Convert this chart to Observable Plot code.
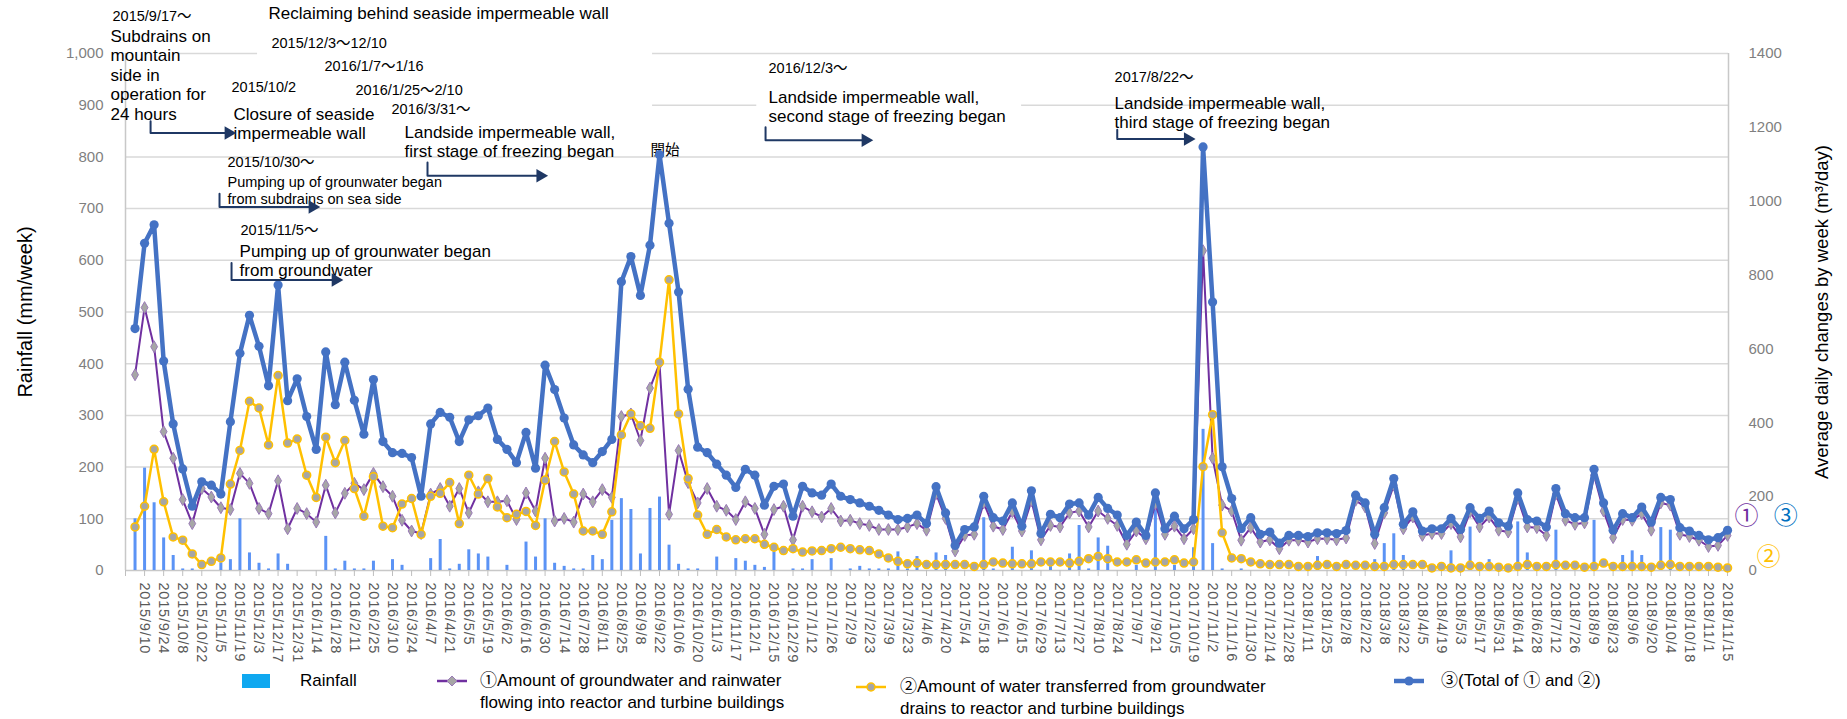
<!DOCTYPE html>
<html><head><meta charset="utf-8">
<script src="https://cdn.jsdelivr.net/npm/d3@7"></script>
<script src="https://cdn.jsdelivr.net/npm/@observablehq/plot@0.6"></script>
<style>
html,body{margin:0;padding:0;background:#fff;}
#wrap{position:relative;width:1847px;height:719px;overflow:hidden;font-family:"Liberation Sans","Noto Sans CJK JP",Arial,sans-serif;}
#legend{position:absolute;left:0;top:665px;width:1847px;height:54px;}
.lg{position:absolute;font-size:17px;color:#000;white-space:nowrap;line-height:20px;}
.sw{position:absolute;}
</style></head><body><div id="wrap"><div id="chart"></div><div id="legend"></div></div>
<script>
// Weekly data, first week 2015/9/3, last week 2018/11/15 (168 weeks)
const rainfall = [
100,198,131,63,29,3,3,0,0,15, 21,100,34,14,3,32,12,0,0,0,
66,3,18,3,3,18,0,21,10,0, 0,23,60,3,12,40,32,26,0,10,
0,55,26,100,14,8,3,3,29,21, 97,139,118,32,120,142,49,12,3,3,
0,26,0,23,18,10,6,36,0,3, 3,21,0,23,0,3,8,3,3,3,
36,3,27,0,34,29,0,0,0,102, 3,0,45,0,38,0,10,0,32,87,
3,63,47,0,0,10,0,117,0,10, 0,44,273,52,3,0,3,0,0,0,
0,0,0,0,27,0,0,0,0,0, 21,52,71,29,0,0,0,0,38,0,
84,0,21,0,0,94,34,0,0,78, 0,0,0,97,0,0,29,38,29,0,
83,78,0,0,0,0,0,0];
const inflow1 = [
530,712,606,376,304,192,127,222,199,170, 165,263,236,168,154,243,113,168,154,131,
231,156,209,236,219,263,227,201,136,107, 100,207,222,174,222,156,213,186,186,189,
138,210,161,304,134,141,131,207,186,219, 198,417,424,352,494,560,152,325,238,183,
222,174,163,138,186,168,98,165,174,83, 174,159,145,168,134,136,127,122,111,111,
111,118,127,109,208,141,53,95,98,183, 120,111,159,107,189,83,122,118,156,161,
118,161,141,122,71,107,86,181,98,120, 86,113,866,304,177,161,82,116,77,83,
59,82,82,77,86,86,83,88,190,172, 73,156,231,113,145,95,100,100,127,91,
159,118,145,109,104,195,118,116,95,207, 136,125,129,258,161,89,138,136,154,109,
183,177,98,92,82,65,68,95];
const transfer2 = [
118,174,328,186,91,82,45,16,25,34, 234,325,458,440,340,528,345,356,258,198,
361,292,352,222,147,254,120,116,180,195, 98,201,209,238,127,258,207,249,172,143,
152,160,122,245,349,267,207,107,107,98, 159,367,424,392,385,564,787,424,249,150,
98,111,91,83,86,86,71,63,54,59, 50,53,54,59,63,59,56,54,45,34,
25,18,20,16,16,16,16,16,11,16, 23,20,18,18,18,23,23,23,20,25,
32,38,32,23,23,29,20,23,23,29, 20,23,281,422,102,34,32,23,18,16,
16,16,11,11,14,16,11,16,14,14, 11,11,16,16,16,16,7,11,7,7,
14,11,11,9,7,11,16,11,11,16, 14,14,9,11,20,11,11,11,11,9,
14,16,11,11,11,11,9,7];
const total3 = [
655,886,936,567,397,275,174,240,231,207, 403,588,691,607,500,773,460,519,417,328,
592,449,564,461,369,517,349,319,317,306, 201,397,428,415,349,408,419,440,355,328,
292,374,277,556,490,413,340,313,292,322, 355,782,850,745,881,1126,940,754,491,334,
319,288,258,225,274,258,177,228,234,147, 228,210,204,234,201,192,183,174,163,150,
138,141,150,127,227,156,68,111,118,201, 143,134,183,120,216,100,152,143,180,183,
150,198,168,150,95,131,95,210,113,147, 113,138,1147,727,281,195,113,143,98,104,
74,95,95,92,102,102,100,108,204,183, 98,170,249,125,159,107,113,113,141,111,
170,141,161,129,120,210,138,134,118,222, 154,143,143,274,183,109,154,143,172,131,
198,192,116,107,95,83,89,109];
const tickLabels = [
"2015/9/10","2015/9/24","2015/10/8","2015/10/22","2015/11/5","2015/11/19","2015/12/3","2015/12/17","2015/12/31",
"2016/1/14","2016/1/28","2016/2/11","2016/2/25","2016/3/10","2016/3/24","2016/4/7","2016/4/21","2016/5/5","2016/5/19",
"2016/6/2","2016/6/16","2016/6/30","2016/7/14","2016/7/28","2016/8/11","2016/8/25","2016/9/8","2016/9/22","2016/10/6",
"2016/10/20","2016/11/3","2016/11/17","2016/12/1","2016/12/15","2016/12/29",
"2017/1/12","2017/1/26","2017/2/9","2017/2/23","2017/3/9","2017/3/23","2017/4/6","2017/4/20","2017/5/4","2017/5/18",
"2017/6/1","2017/6/15","2017/6/29","2017/7/13","2017/7/27","2017/8/10","2017/8/24","2017/9/7","2017/9/21","2017/10/5",
"2017/10/19","2017/11/2","2017/11/16","2017/11/30","2017/12/14","2017/12/28",
"2018/1/11","2018/1/25","2018/2/8","2018/2/22","2018/3/8","2018/3/22","2018/4/5","2018/4/19","2018/5/3","2018/5/17",
"2018/5/31","2018/6/14","2018/6/28","2018/7/12","2018/7/26","2018/8/9","2018/8/23","2018/9/6","2018/9/20","2018/10/4",
"2018/10/18","2018/11/1","2018/11/15"];
const leftTicks = [0,100,200,300,400,500,600,700,800,900,1000];
const rightTicks = [0,200,400,600,800,1000,1200,1400];

// annotations: x in week index, y in left-axis units
const annotBig = [
  {x:14.0, y:1076.6, t:"Reclaiming behind seaside impermeable wall"},
  {x:-2.57, y:1033.0, t:"Subdrains on"},
  {x:-2.57, y:996.1, t:"mountain"},
  {x:-2.57, y:958.3, t:"side in"},
  {x:-2.57, y:920.5, t:"operation for"},
  {x:-2.57, y:882.8, t:"24 hours"},
  {x:10.33, y:882.8, t:"Closure of seaside"},
  {x:10.33, y:844.4, t:"impermeable wall"},
  {x:28.26, y:847.5, t:"Landside impermeable wall,"},
  {x:28.26, y:809.5, t:"first stage of freezing began"},
  {x:10.96, y:616.9, t:"Pumping up of grounwater began"},
  {x:10.96, y:580.0, t:"from groundwater"},
  {x:66.43, y:914.1, t:"Landside impermeable wall,"},
  {x:66.43, y:878.5, t:"second stage of freezing began"},
  {x:102.72, y:903.1, t:"Landside impermeable wall,"},
  {x:102.72, y:866.9, t:"third stage of freezing began"}
];
const annotSmall = [
  {x:-2.36, y:1071.7, t:"2015/9/17～"},
  {x:14.31, y:1019.4, t:"2015/12/3～12/10"},
  {x:19.87, y:974.8, t:"2016/1/7～1/16"},
  {x:10.12, y:934.1, t:"2015/10/2"},
  {x:23.12, y:928.3, t:"2016/1/25～2/10"},
  {x:26.90, y:891.5, t:"2016/3/31～"},
  {x:9.70, y:790.1, t:"2015/10/30～"},
  {x:9.70, y:750.6, t:"Pumping up of grounwater began"},
  {x:9.70, y:717.1, t:"from subdrains on sea side"},
  {x:11.06, y:657.6, t:"2015/11/5～"},
  {x:66.43, y:970.3, t:"2016/12/3～"},
  {x:102.72, y:954.8, t:"2017/8/22～"}
];
const stray = [{x:54.06, y:812.6, t:"開始"}];
// white text-box backgrounds that hide gridlines
const boxes = [
  {x1:-0.9, x2:4.56, y1:887.6, y2:1046.5},
  {x1:4.56, x2:12.85, y1:887.6, y2:984.5},
  {x1:12.85, x2:54.27, y1:887.6, y2:1104.7},
  {x1:65.2, x2:92.97, y1:862.4, y2:988.4}
];
const arrows = [
  {id:1, xa:1.63, ya:868.8, xb:9.80, yb:846.3},
  {id:2, xa:30.67, ya:789.3, xb:42.5, yb:763.6},
  {id:3, xa:8.86, ya:728.7, xb:18.61, yb:702.9},
  {id:4, xa:10.12, ya:595.0, xb:21.03, yb:562.0},
  {id:5, xa:66.12, ya:857.2, xb:76.6, yb:832.0},
  {id:6, xa:103.0, ya:852.7, xb:110.4, yb:834.7}
];
const circled = [
  {x:169.0, y:104.7, t:"①", c:"#7030A0"},
  {x:173.1, y:104.7, t:"③", c:"#0070C0"},
  {x:171.3, y:25.0, t:"②", c:"#FFC000"}
];

const k = 1000/1400;
const rows = rainfall.map((r,i)=>({i, rain:r, s1:inflow1[i], s2:transfer2[i], s3:total3[i]}));
const tickIdx = [-1, ...tickLabels.map((t,j)=>2*j+1)];
const arrowPts = arrows.flatMap(a=>[{id:a.id,x:a.xa,y:a.ya},{id:a.id,x:a.xa,y:a.yb},{id:a.id,x:a.xb,y:a.yb}]);
const navy = "#1F3864";
const xMax = 167.1;

const chart = Plot.plot({
  width: 1847, height: 665,
  marginLeft: 125, marginRight: 119, marginTop: 53, marginBottom: 95,
  x: {type:"linear", domain:[-1, xMax]},
  y: {domain:[0,1000]},
  style: {fontFamily:'"Liberation Sans","Noto Sans CJK JP",Arial,sans-serif', background:"#fff", overflow:"visible"},
  marks: [
    Plot.ruleY(leftTicks.slice(1), {stroke:"#d9d9d9", strokeWidth:1.5}),
    Plot.rect(boxes, {x1:"x1", x2:"x2", y1:"y1", y2:"y2", fill:"#fff"}),
    Plot.ruleX([-1], {y1:0, y2:1000, stroke:"#c8c8c8", strokeWidth:1.5}),
    Plot.ruleX([xMax], {y1:0, y2:1000, stroke:"#c8c8c8", strokeWidth:1.5}),
    Plot.ruleY([0], {stroke:"#c8c8c8", strokeWidth:1.5}),
    Plot.axisY(leftTicks, {anchor:"left", tickSize:0, tickPadding:22, tickFormat:d3.format(","), fontSize:15, fill:"#7f7f7f", label:null}),
    Plot.axisY(rightTicks.map(v=>v*k), {anchor:"right", tickSize:0, tickPadding:20, tickFormat:v=>String(Math.round(v/k)), fontSize:15, fill:"#7f7f7f", label:null}),
    Plot.axisX(tickIdx, {anchor:"bottom", tickSize:6, tickPadding:6, tickRotate:90, fontSize:14.5, fill:"#595959", stroke:"#bfbfbf", tickFormat:i=> i<0 ? "" : tickLabels[(i-1)/2], label:null}),
    Plot.text(["Rainfall (mm/week)"], {frameAnchor:"left", dx:-100, rotate:-90, textAnchor:"middle", fontSize:20, fill:"#000"}),
    Plot.text(["Average daily changes by week (m³/day)"], {frameAnchor:"right", dx:94, rotate:-90, textAnchor:"middle", fontSize:18.5, fill:"#000"}),
    Plot.text(stray, {x:"x", y:"y", text:"t", textAnchor:"start", fontSize:14.5, fill:"#000"}),
    // rainfall bars
    Plot.ruleX(rows, {x:"i", y1:0, y2:"rain", stroke:"#5b93f5", strokeWidth:3}),
    // ① purple
    Plot.line(rows, {x:"i", y:d=>d.s1*k, stroke:"#7030A0", strokeWidth:2}),
    Plot.dot(rows, {x:"i", y:d=>d.s1*k, symbol:"diamond", r:3.6, fill:"#a6a6a6", stroke:"#9a7ab8", strokeWidth:1}),
    // ② yellow
    Plot.line(rows, {x:"i", y:d=>d.s2*k, stroke:"#FFC000", strokeWidth:2.5}),
    Plot.dot(rows, {x:"i", y:d=>d.s2*k, r:4, fill:"#a6a6a6", stroke:"#FFC000", strokeWidth:1.5}),
    // ③ blue
    Plot.line(rows, {x:"i", y:d=>d.s3*k, stroke:"#4472C4", strokeWidth:4.5}),
    Plot.dot(rows, {x:"i", y:d=>d.s3*k, r:4.6, fill:"#4472C4"}),
    // annotations
    Plot.text(annotBig, {x:"x", y:"y", text:"t", textAnchor:"start", fontSize:17, fill:"#000"}),
    Plot.text(annotSmall, {x:"x", y:"y", text:"t", textAnchor:"start", fontSize:14.5, fill:"#000"}),
    Plot.line(arrowPts, {x:"x", y:"y", z:"id", stroke:navy, strokeWidth:2}),
    Plot.dot(arrows, {x:"xb", y:"yb", symbol:"triangle", rotate:90, r:5, fill:navy}),
    Plot.text(circled, {x:"x", y:"y", text:"t", fill:"c", fontSize:24, textAnchor:"middle"})
  ]
});
d3.select(chart).selectAll('g[aria-label="x-axis tick label"] text').attr("letter-spacing","0.8px");
document.getElementById("chart").appendChild(chart);

// legend
const legendItems = [
  {kind:"rect", x:242, cy:16, color:"#0fa8f0", lines:["Rainfall"], tx:300},
  {kind:"diamond", x:436, cy:16, color:"#7030A0", lines:["①Amount of groundwater and rainwater","flowing into reactor and turbine buildings"], tx:480},
  {kind:"circle", x:855, cy:22, color:"#FFC000", lines:["②Amount of water transferred from groundwater","drains to reactor and turbine buildings"], tx:900},
  {kind:"blue", x:1393, cy:16, color:"#4472C4", lines:["③(Total of ① and ②)"], tx:1441}
];
const lg = d3.select("#legend");
legendItems.forEach(it=>{
  const svg = lg.append("svg").attr("class","sw").style("left", it.x+"px").style("top",(it.cy-10)+"px").attr("width",34).attr("height",20);
  if (it.kind==="rect") svg.append("rect").attr("x",0).attr("y",3).attr("width",28).attr("height",14).attr("fill",it.color);
  else {
    svg.append("line").attr("x1",1).attr("x2",31).attr("y1",10).attr("y2",10).attr("stroke",it.color).attr("stroke-width", it.kind==="blue"?4.5:2.5);
    if (it.kind==="diamond") svg.append("path").attr("d","M16,5 L21,10 L16,15 L11,10 Z").attr("fill","#a6a6a6").attr("stroke","#9a7ab8");
    if (it.kind==="circle") svg.append("circle").attr("cx",16).attr("cy",10).attr("r",4).attr("fill","#a6a6a6").attr("stroke",it.color).attr("stroke-width",1.5);
    if (it.kind==="blue") svg.append("circle").attr("cx",16).attr("cy",10).attr("r",4.6).attr("fill",it.color);
  }
  it.lines.forEach((t,j)=>{
    lg.append("div").attr("class","lg").style("left", it.tx+"px").style("top",(it.cy-10+j*22)+"px").text(t);
  });
});
</script></body></html>
